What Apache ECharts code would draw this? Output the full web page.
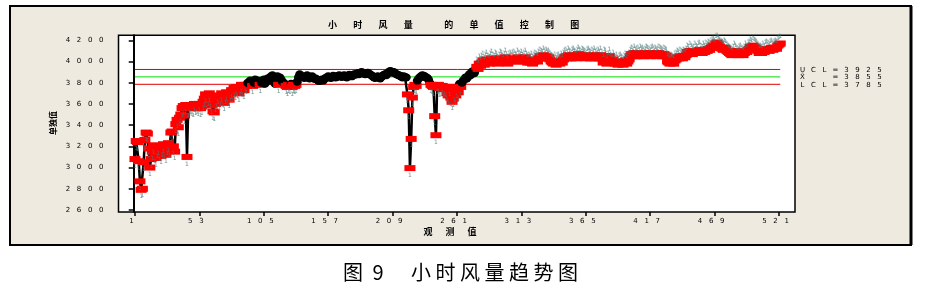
<!DOCTYPE html>
<html><head><meta charset="utf-8">
<script src="https://cdn.jsdelivr.net/npm/echarts@6/dist/echarts.min.js"></script>
<style>html,body{margin:0;padding:0;background:#fff}#c{width:926px;height:295px}</style>
</head><body><div id="c"></div>
<script>
// ---- data ----
const chartTitle = '小时风量 的单值控制图';
const xAxisName = '观测值';
const yAxisName = '单独值';
const caption1 = '图9';
const caption2 = '小时风量趋势图';
const xTicks = [1,53,105,157,209,261,313,365,417,469,521];
const yTicks = [2600,2800,3000,3200,3400,3600,3800,4000,4200];
const UCL = 3925, CL = 3855, LCL = 3785;
const limitText = [['U','C','L','=','3','9','2','5'],['X\u0304','','','=','3','8','5','5'],['L','C','L','=','3','7','8','5']];
const values = [
3080,3250,3240,3060,2870,2790,2800,3050,3260,3330,
3320,3180,3000,3080,3150,3210,3120,3090,3170,3200,
3140,3110,3180,3220,3160,3120,3200,3230,3180,3330,
3340,3200,3150,3410,3450,3380,3470,3500,3560,3580,
3490,3590,3100,3560,3580,3590,3570,3560,3600,3580,
3590,3570,3600,3560,3580,3620,
3650,3690,3620,3660,3700,3640,3590,3530,3520,3600,
3640,3680,3620,3660,3700,3650,3610,3680,3710,3660,3640,3700,
3730,3700,3750,3720,3760,3740,3700,3760,3780,3750,3730,3780,3770,
3800,3790,3820,3810,3770,3800,3830,3790,3820,3810,3780,3800,3820,3830,3790,3810,3840,3820,3850,
3860,3870,3850,3790,3840,3860,3780,3850,3830,3810,
3800,3790,3770,3760,3780,3770,3790,3760,3780,3770,3780,3810,3850,3880,3860,
3860,3850,3845,3860,3870,3855,3840,3850,3860,3845,3835,3840,
3830,3820,3815,3825,3830,3820,3835,3845,
3850,3860,3855,3845,3850,3865,3860,3850,3855,3865,
3870,3860,3855,3865,3870,3860,3850,3865,3875,3870,3860,3870,3880,3875,
3885,3890,3880,3895,3900,3890,3885,3880,3890,3895,3885,3875,3870,3860,
3850,3845,3855,3860,3850,3840,3855,3865,3875,3880,3870,
3890,3900,3910,3905,3895,3900,3890,3880,3875,3870,3865,
3860,3850,3860,3855,3850,
3690,3540,2995,3270,3660,3760,3780,3770,3820,3840,
3850,3860,3870,3865,3860,3850,3845,3830,3800,3780,
3770,3760,3485,3305,3770,3780,3750,3760,3770,3740,
3760,3750,3700,3680,3760,3660,3620,3650,3700,3680,
3740,3710,3790,3760,3800,3820,3830,3850,3840,3860,
3880,3870,3900,3910,3890,3920,3950,3930,3980,3960,
3990,4010,3970,4000,4020,3990,3980,4010,4030,4000,3990,4020,4010,3980,4000,4030,4020,3990,4010,4040,4000,3980,4010,4020,4000,
4020,4030,4010,4000,4040,4020,4010,4030,4000,4020,4040,4010,3990,
4000,3990,4010,3980,4000,4020,4010,4000,
4030,4050,4040,4030,4060,4040,4050,4030,4040,4020,4000,
3990,3980,4000,3970,3990,4000,3980,4010,3990,4020,
4040,4050,4030,4060,4040,4030,4050,4060,4040,4030,4050,4070,4050,4040,4060,4050,4040,4030,4050,4060,4040,4030,4050,4040,4060,4030,4040,4050,4030,
4060,4030,3990,4050,4040,3980,4010,4050,4000,3990,4020,
3990,3980,4000,3970,3990,4000,3980,3970,3990,4010,3980,4000,4020,
4050,4070,4060,4080,4050,4060,4070,4050,4080,4060,4070,4050,4060,4080,4070,4060,4050,4070,4080,4060,4070,4050,4060,4080,4070,4060,4050,4070,4060,4050,
4000,3990,3980,4000,3990,3980,4010,4020,4040,4030,4050,4040,4030,4050,4040,4060,
4090,4080,4100,4090,4070,4080,4100,4090,4080,4100,4110,4090,4080,4100,4090,4110,4100,4120,4110,4130,
4140,4150,4130,4170,4180,4160,4140,4130,4120,4110,4130,4120,4100,4090,
4080,4070,4060,4080,4100,4090,4070,4060,4080,4090,4070,4060,4080,4100,4090,4110,
4120,4140,4130,4150,4140,4130,4120,4100,
4080,4090,4080,4100,4090,4110,4120,4110,4100,4120,4130,4110,4120,4130,4120,
4150,4160,4170
];

// ---- build ----
const n = values.length;
const spaced = v => String(v).split('').join('   ');
const pts = values.map((v, i) => {
  const item = { value: [i + 1, v] };
  if (v > UCL || v < LCL) {
    item.symbol = 'rect';
    item.symbolSize = [11, 6];
    item.itemStyle = { color: '#ff0000' };
    item.label = { show: true, formatter: '1', position: v > UCL ? 'top' : 'bottom', distance: 1,
      fontSize: 6, fontFamily: 'DejaVu Sans', color: 'rgba(70,120,120,0.8)' };
  }
  return item;
});

const graphics = [];
graphics.push({ type: 'rect', z: -10, shape: { x: 10, y: 6, width: 901, height: 239 },
  style: { fill: '#EEEAE0', stroke: '#000', lineWidth: 2 } });
graphics.push({ type: 'line', z: -9, shape: { x1: 911, y1: 6, x2: 911, y2: 245 }, style: { stroke: '#000', lineWidth: 3 } });
function row(chars, x0, pitch, y, font, extra) {
  let x = x0;
  for (const ch of chars) {
    if (ch === ' ') { x += (extra && extra.gap) || pitch; continue; }
    if (ch !== '') graphics.push({ type: 'text', x: x, y: y, z: 10,
      style: { text: ch, font: font, fill: '#000', textAlign: 'center', textVerticalAlign: 'middle' } });
    x += pitch;
  }
}
row(chartTitle.split(''), 332.6, 25.2, 25, 'bold 9px "Noto Sans CJK SC"', { gap: 15.3 });
row(xAxisName.split(''), 428, 22, 232, 'bold 9px "Noto Sans CJK SC"');
limitText.forEach((line, k) => row(line, 802.5, 11, 70 + k * 7.5, '7px "DejaVu Sans"'));
row(caption1.split(''), 353, 25, 272, '20px "Noto Sans CJK SC"');
row(caption2.split(''), 421, 24.5, 272, '20px "Noto Sans CJK SC"');
graphics.push({ type: 'text', x: 53, y: 123, rotation: Math.PI / 2, z: 10,
  style: { text: yAxisName, font: 'bold 8px "Noto Sans CJK SC"', fill: '#000', textAlign: 'center', textVerticalAlign: 'middle' } });

const chart = echarts.init(document.getElementById('c'), null, { renderer: 'canvas' });
chart.setOption({
  animation: false,
  backgroundColor: '#fff',
  graphic: graphics,
  grid: { left: 118.5, top: 35.2, width: 676.5, height: 176.8, show: true, backgroundColor: '#fff',
    borderColor: '#000', borderWidth: 1.5 },
  xAxis: {
    type: 'value', min: -12.3, max: 533.9,
    axisLine: { show: false },
    splitLine: { show: false },
    axisTick: { show: true, customValues: xTicks, length: 4, inside: false, lineStyle: { color: '#000', width: 1.5 } },
    axisLabel: { customValues: xTicks, formatter: spaced, fontSize: 7, fontFamily: 'DejaVu Sans', color: '#000',
      margin: 6, padding: [0, 7, 0, 0] }
  },
  yAxis: {
    type: 'value', min: 2581, max: 4248,
    axisLine: { show: true, lineStyle: { color: '#000', width: 2 } },
    splitLine: { show: false },
    axisTick: { show: true, customValues: yTicks, length: 5, lineStyle: { color: '#000', width: 1.5 } },
    axisLabel: { customValues: yTicks, formatter: spaced, fontSize: 7, fontFamily: 'DejaVu Sans', color: '#000', margin: 15 }
  },
  series: [
    { type: 'line', z: 1, symbol: 'none', silent: true, data: [[1, UCL], [n, UCL]], lineStyle: { color: '#e00000', width: 1 } },
    { type: 'line', z: 1, symbol: 'none', silent: true, data: [[1, CL], [n, CL]], lineStyle: { color: '#00dd00', width: 1 } },
    { type: 'line', z: 1, symbol: 'none', silent: true, data: [[1, LCL], [n, LCL]], lineStyle: { color: '#e00000', width: 1 } },
    { type: 'line', z: 2, data: pts, symbol: 'circle', symbolSize: [9, 8], showAllSymbol: true,
      itemStyle: { color: '#000' }, lineStyle: { color: '#000', width: 2.5 } }
  ]
});
</script></body></html>
